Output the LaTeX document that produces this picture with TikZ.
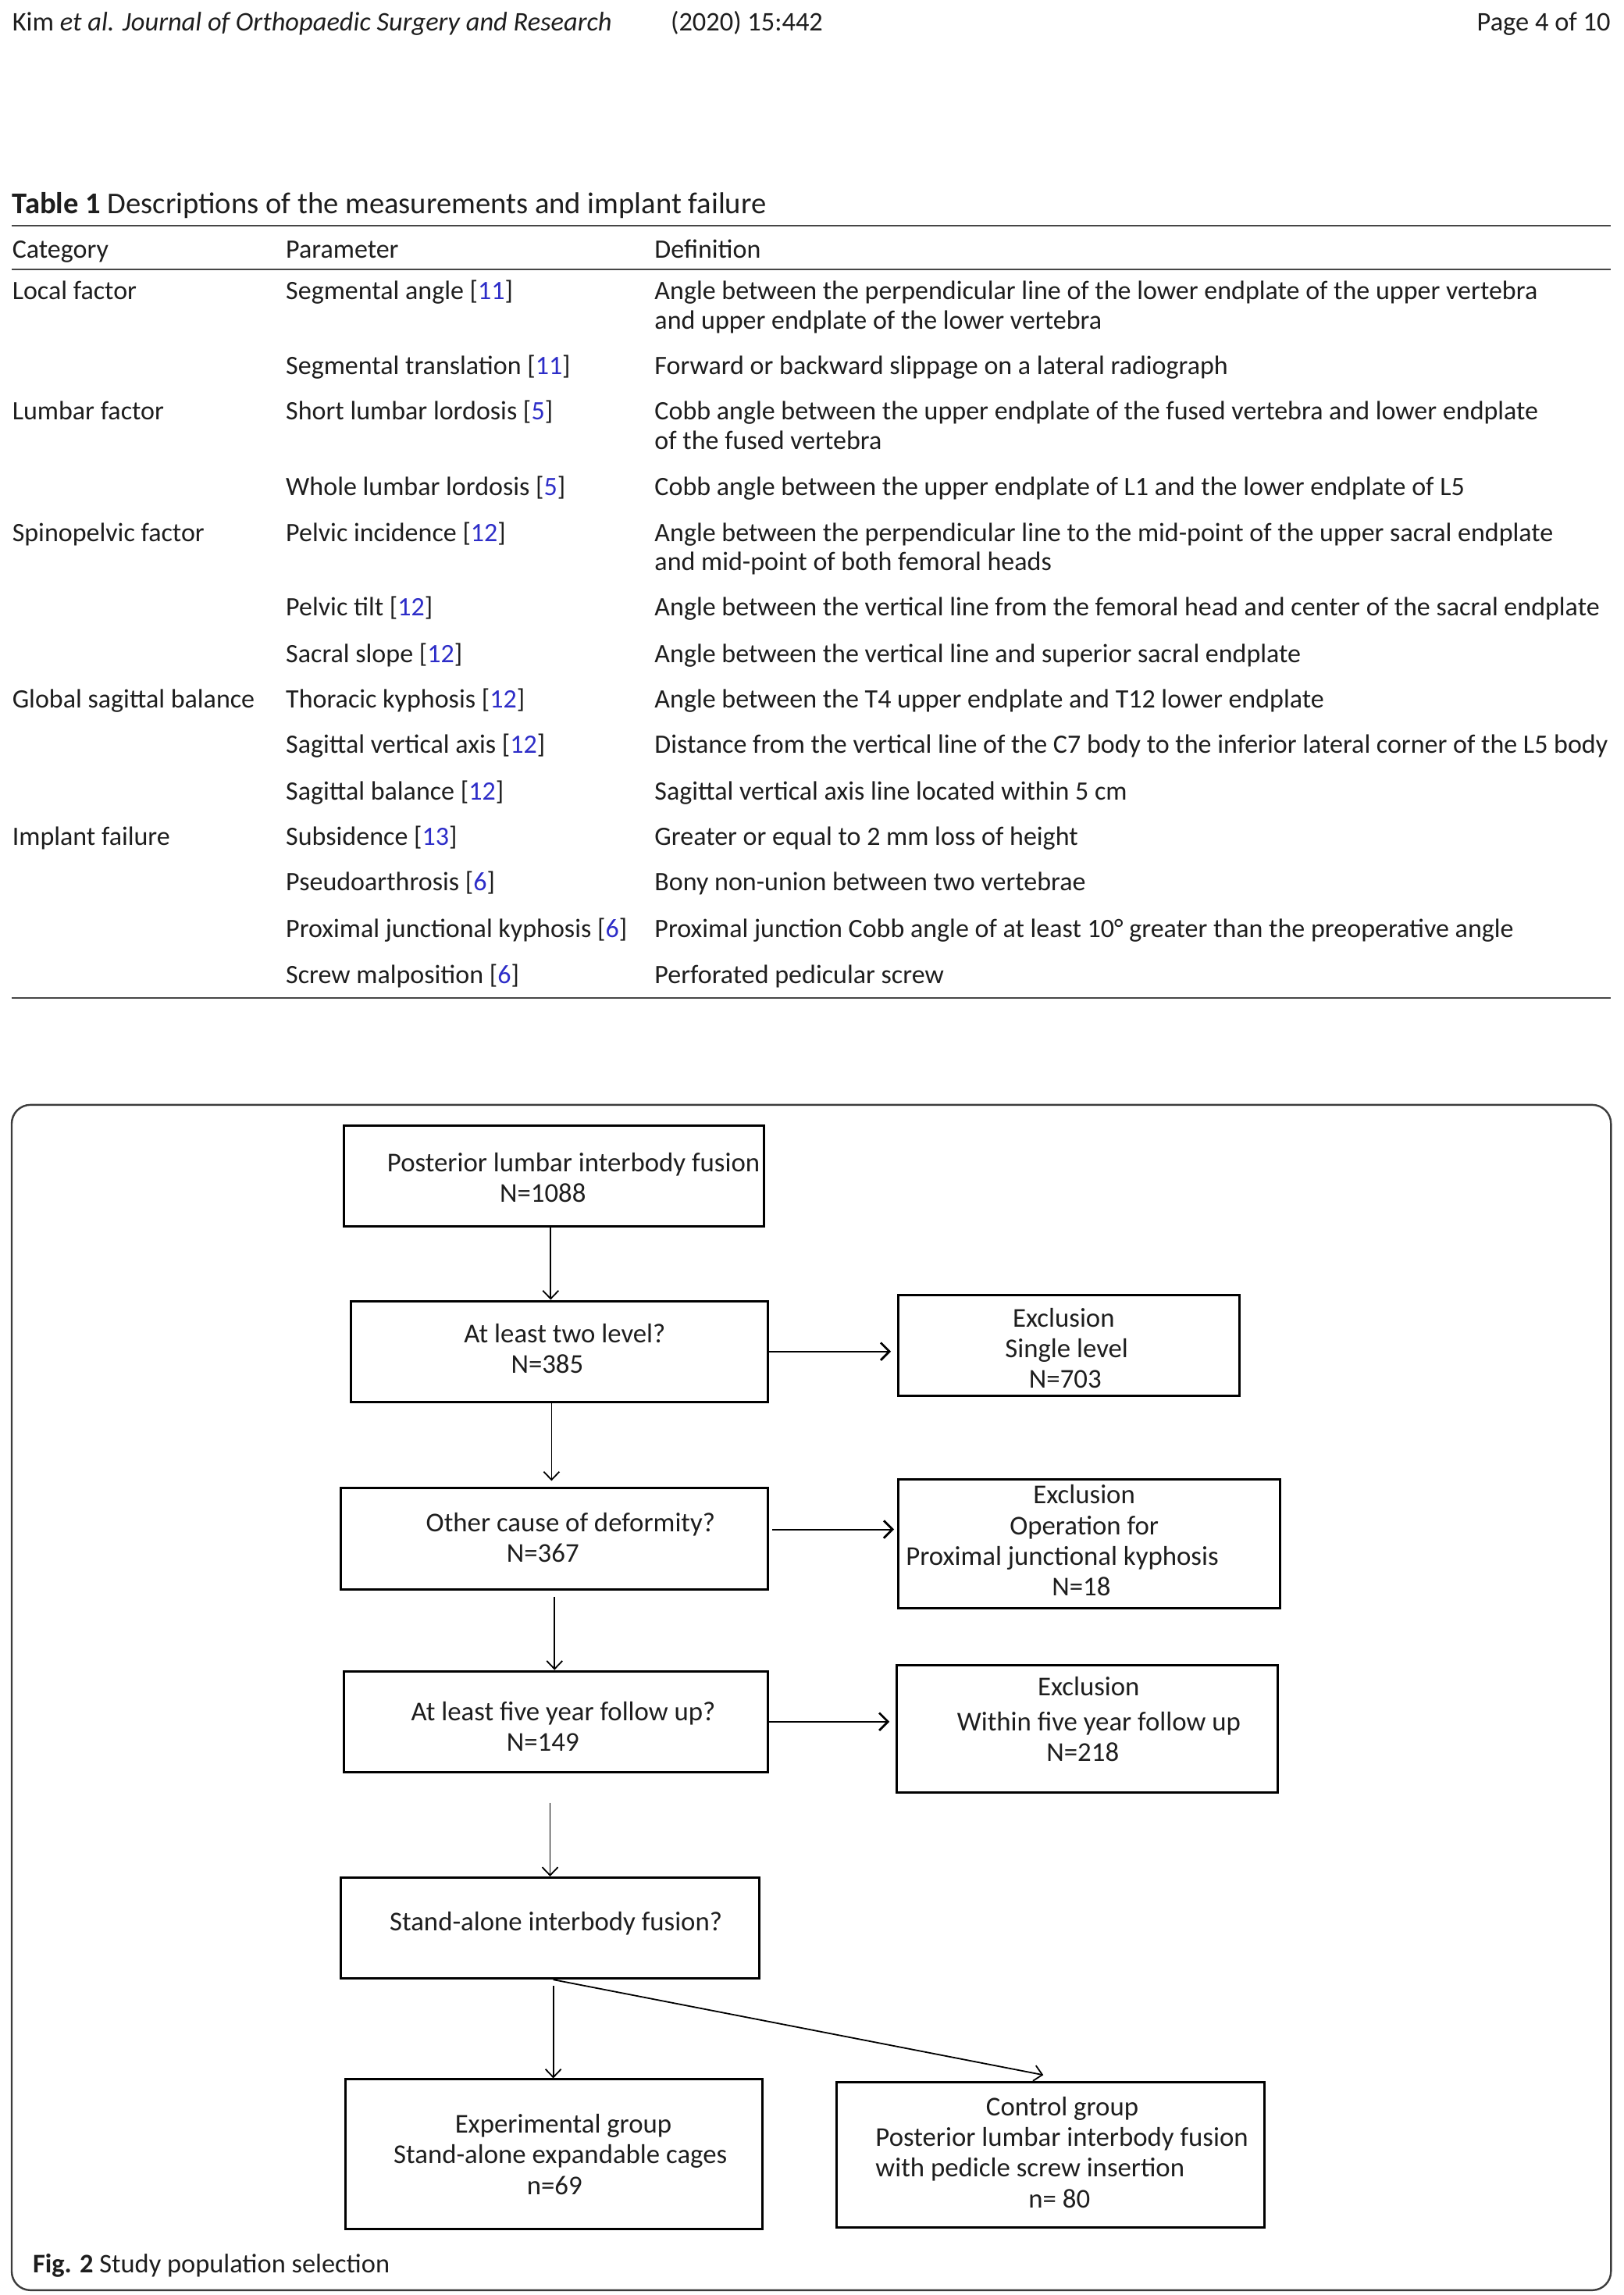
\documentclass[tikz,border=0pt]{standalone}
\usepackage{fontspec}
\setmainfont{Carlito}
\usetikzlibrary{arrows.meta,fit}
\definecolor{refblue}{RGB}{45,45,200}
\definecolor{rulegray}{RGB}{70,70,70}
\definecolor{framegray}{RGB}{60,60,60}
\definecolor{inkblack}{RGB}{30,30,30}
\newcommand{\rf}[1]{[\textcolor{refblue}{#1}]}
\begin{document}
\begin{tikzpicture}[x=0.4685pt,y=-0.4685pt,
  txt/.style={inner sep=0pt, text height=0.64em, text depth=0.22em, text=inkblack, yshift=-1pt},
  hdr/.style={txt, anchor=west, font=\fontsize{8.6}{10}\selectfont},
  ttl/.style={txt, anchor=west, font=\fontsize{9.65}{11}\selectfont, yshift=-0.4pt},
  tbl/.style={txt, anchor=west, font=\fontsize{8.5}{10}\selectfont, yshift=-0.1pt},
  fl/.style={txt, font=\fontsize{8.7}{10}\selectfont},
  box/.style={draw, line width=0.75pt, inner sep=0pt},
  arr/.style={line width=0.45pt, -{Straight Barb[length=2.6pt,width=5pt]}},
  harr/.style={line width=0.5pt, -{Straight Barb[length=2.8pt,width=5.6pt,line width=0.7pt]}},
  rule/.style={draw=rulegray, line width=0.5pt}]

\useasboundingbox[fill=white] (0,0) rectangle (1109.9,1568.3);

% running header
\node[hdr] (hA) at (8,14.5) {Kim \textit{et al. Journal of Orthopaedic Surgery and Research}};
\node[hdr] (hB) at (458,14.5) {(2020) 15:442};
\node[hdr, anchor=east] (hC) at (1101,14.5) {Page 4 of 10};

% table
\node[ttl] (title) at (8,138.5) {\textbf{Table 1} Descriptions of the measurements and implant failure};
\draw[rule] (8,154) -- (1101,154);
\node[tbl] (hcat) at (8,169.5) {Category};
\node[tbl] (hpar) at (195,169.5) {Parameter};
\node[tbl] (hdef) at (447,169.5) {Definition};
\draw[rule] (8,184) -- (1101,184);

\node[tbl] (c1) at (8,198) {Local factor};
\node[tbl] (p1) at (195,198) {Segmental angle \rf{11}};
\node[tbl] (d1a) at (447,198) {Angle between the perpendicular line of the lower endplate of the upper vertebra};
\node[tbl] (d1b) at (447,218) {and upper endplate of the lower vertebra};
\node[tbl] (p2) at (195,249) {Segmental translation \rf{11}};
\node[tbl] (d2) at (447,249) {Forward or backward slippage on a lateral radiograph};

\node[tbl] (c2) at (8,280) {Lumbar factor};
\node[tbl] (p3) at (195,280) {Short lumbar lordosis \rf{5}};
\node[tbl] (d3a) at (447,280) {Cobb angle between the upper endplate of the fused vertebra and lower endplate};
\node[tbl] (d3b) at (447,300) {of the fused vertebra};
\node[tbl] (p4) at (195,332) {Whole lumbar lordosis \rf{5}};
\node[tbl] (d4) at (447,332) {Cobb angle between the upper endplate of L1 and the lower endplate of L5};

\node[tbl] (c3) at (8,363) {Spinopelvic factor};
\node[tbl] (p5) at (195,363) {Pelvic incidence \rf{12}};
\node[tbl] (d5a) at (447,363) {Angle between the perpendicular line to the mid-point of the upper sacral endplate};
\node[tbl] (d5b) at (447,383) {and mid-point of both femoral heads};
\node[tbl] (p6) at (195,414) {Pelvic tilt \rf{12}};
\node[tbl] (d6) at (447,414) {Angle between the vertical line from the femoral head and center of the sacral endplate};
\node[tbl] (p7) at (195,446) {Sacral slope \rf{12}};
\node[tbl] (d7) at (447,446) {Angle between the vertical line and superior sacral endplate};

\node[tbl] (c4) at (8,477) {Global sagittal balance};
\node[tbl] (p8) at (195,477) {Thoracic kyphosis \rf{12}};
\node[tbl] (d8) at (447,477) {Angle between the T4 upper endplate and T12 lower endplate};
\node[tbl] (p9) at (195,508) {Sagittal vertical axis \rf{12}};
\node[tbl] (d9) at (447,508) {Distance from the vertical line of the C7 body to the inferior lateral corner of the L5 body};
\node[tbl] (p10) at (195,540) {Sagittal balance \rf{12}};
\node[tbl] (d10) at (447,540) {Sagittal vertical axis line located within 5 cm};

\node[tbl] (c5) at (8,571) {Implant failure};
\node[tbl] (p11) at (195,571) {Subsidence \rf{13}};
\node[tbl] (d11) at (447,571) {Greater or equal to 2 mm loss of height};
\node[tbl] (p12) at (195,602) {Pseudoarthrosis \rf{6}};
\node[tbl] (d12) at (447,602) {Bony non-union between two vertebrae};
\node[tbl] (p13) at (195,634) {Proximal junctional kyphosis \rf{6}};
\node[tbl] (d13) at (447,634) {Proximal junction Cobb angle of at least 10° greater than the preoperative angle};
\node[tbl] (p14) at (195,665) {Screw malposition \rf{6}};
\node[tbl] (d14) at (447,665) {Perforated pedicular screw};
\draw[rule] (8,682) -- (1101,682);

% figure frame
\draw[draw=framegray, line width=0.6pt, rounded corners=6pt] (8,755) rectangle (1101,1565);

% flowchart boxes
\node[box, fit={(235,769) (522,838)}] (b1) {};
\node[box, fit={(240,889) (525,958)}] (b2) {};
\node[box, fit={(614,885) (847,954)}] (b3) {};
\node[box, fit={(233,1017) (525,1086)}] (b4) {};
\node[box, fit={(614,1011) (875,1099)}] (b5) {};
\node[box, fit={(235,1142) (525,1211)}] (b6) {};
\node[box, fit={(613,1138) (873,1225)}] (b7) {};
\node[box, fit={(233,1283) (519,1352)}] (b8) {};
\node[box, fit={(236,1421) (521,1523)}] (b9) {};
\node[box, fit={(572,1423) (864,1522)}] (b10) {};

% flowchart texts
\node[fl] (t1a) at (392,794) {Posterior lumbar interbody fusion};
\node[fl] (t1b) at (371,815) {N=1088};
\node[fl] (t2a) at (386,911) {At least two level?};
\node[fl] (t2b) at (374,932) {N=385};
\node[fl] (t3a) at (727,900) {Exclusion};
\node[fl] (t3b) at (729,921) {Single level};
\node[fl] (t3c) at (728,942) {N=703};
\node[fl] (t4a) at (390,1040) {Other cause of deformity?};
\node[fl] (t4b) at (371,1061) {N=367};
\node[fl] (t5a) at (741,1021) {Exclusion};
\node[fl] (t5b) at (741,1042) {Operation for};
\node[fl] (t5c) at (726,1063) {Proximal junctional kyphosis};
\node[fl] (t5d) at (739,1084) {N=18};
\node[fl] (t6a) at (385,1169) {At least five year follow up?};
\node[fl] (t6b) at (371,1190) {N=149};
\node[fl] (t7a) at (744,1152) {Exclusion};
\node[fl] (t7b) at (751,1176) {Within five year follow up};
\node[fl] (t7c) at (740,1197) {N=218};
\node[fl] (t8a) at (380,1313) {Stand-alone interbody fusion?};
\node[fl] (t9a) at (385,1451) {Experimental group};
\node[fl] (t9b) at (383,1472) {Stand-alone expandable cages};
\node[fl] (t9c) at (379,1493) {n=69};
\node[fl] (t10a) at (726,1439) {Control group};
\node[fl, anchor=west] (t10b) at (598,1460) {Posterior lumbar interbody fusion};
\node[fl, anchor=west] (t10c) at (598,1481) {with pedicle screw insertion};
\node[fl] (t10d) at (724,1502) {n= 80};

% connectors
\draw[arr] ([xshift=-1pt]b1.south) -- ([xshift=-1pt]b1.south |- b2.north);
\draw[arr] ([xshift=-2.6pt]b2.south) -- ([xshift=-2.6pt,yshift=2pt]b2.south |- b4.north);
\draw[arr] ([yshift=-2pt]b4.south) -- (b4.south |- b6.north);
\draw[arr] ([xshift=-1.9pt,yshift=-9.4pt]b6.south) -- ([xshift=-1.9pt]b6.south |- b8.north);
\draw[arr] ([xshift=1pt,yshift=-2pt]b8.south) -- ([xshift=1pt]b8.south |- b9.north);
\draw[arr] ([xshift=1pt]b8.south) -- ([xshift=-2.3pt,yshift=2pt]b10.north);
\draw[harr] (b2.east) -- ([xshift=-2pt]b2.east -| b3.west);
\draw[harr] ([xshift=1pt,yshift=3pt]b4.east) -- ([xshift=-1pt,yshift=3pt]b4.east -| b5.west);
\draw[harr] (b6.east) -- ([xshift=-2pt]b6.east -| b7.west);

% caption
\node[txt, anchor=west, font=\fontsize{8.6}{10}\selectfont] (cap) at (22,1546.5) {\textbf{Fig. 2} Study population selection};
\end{tikzpicture}
\end{document}
